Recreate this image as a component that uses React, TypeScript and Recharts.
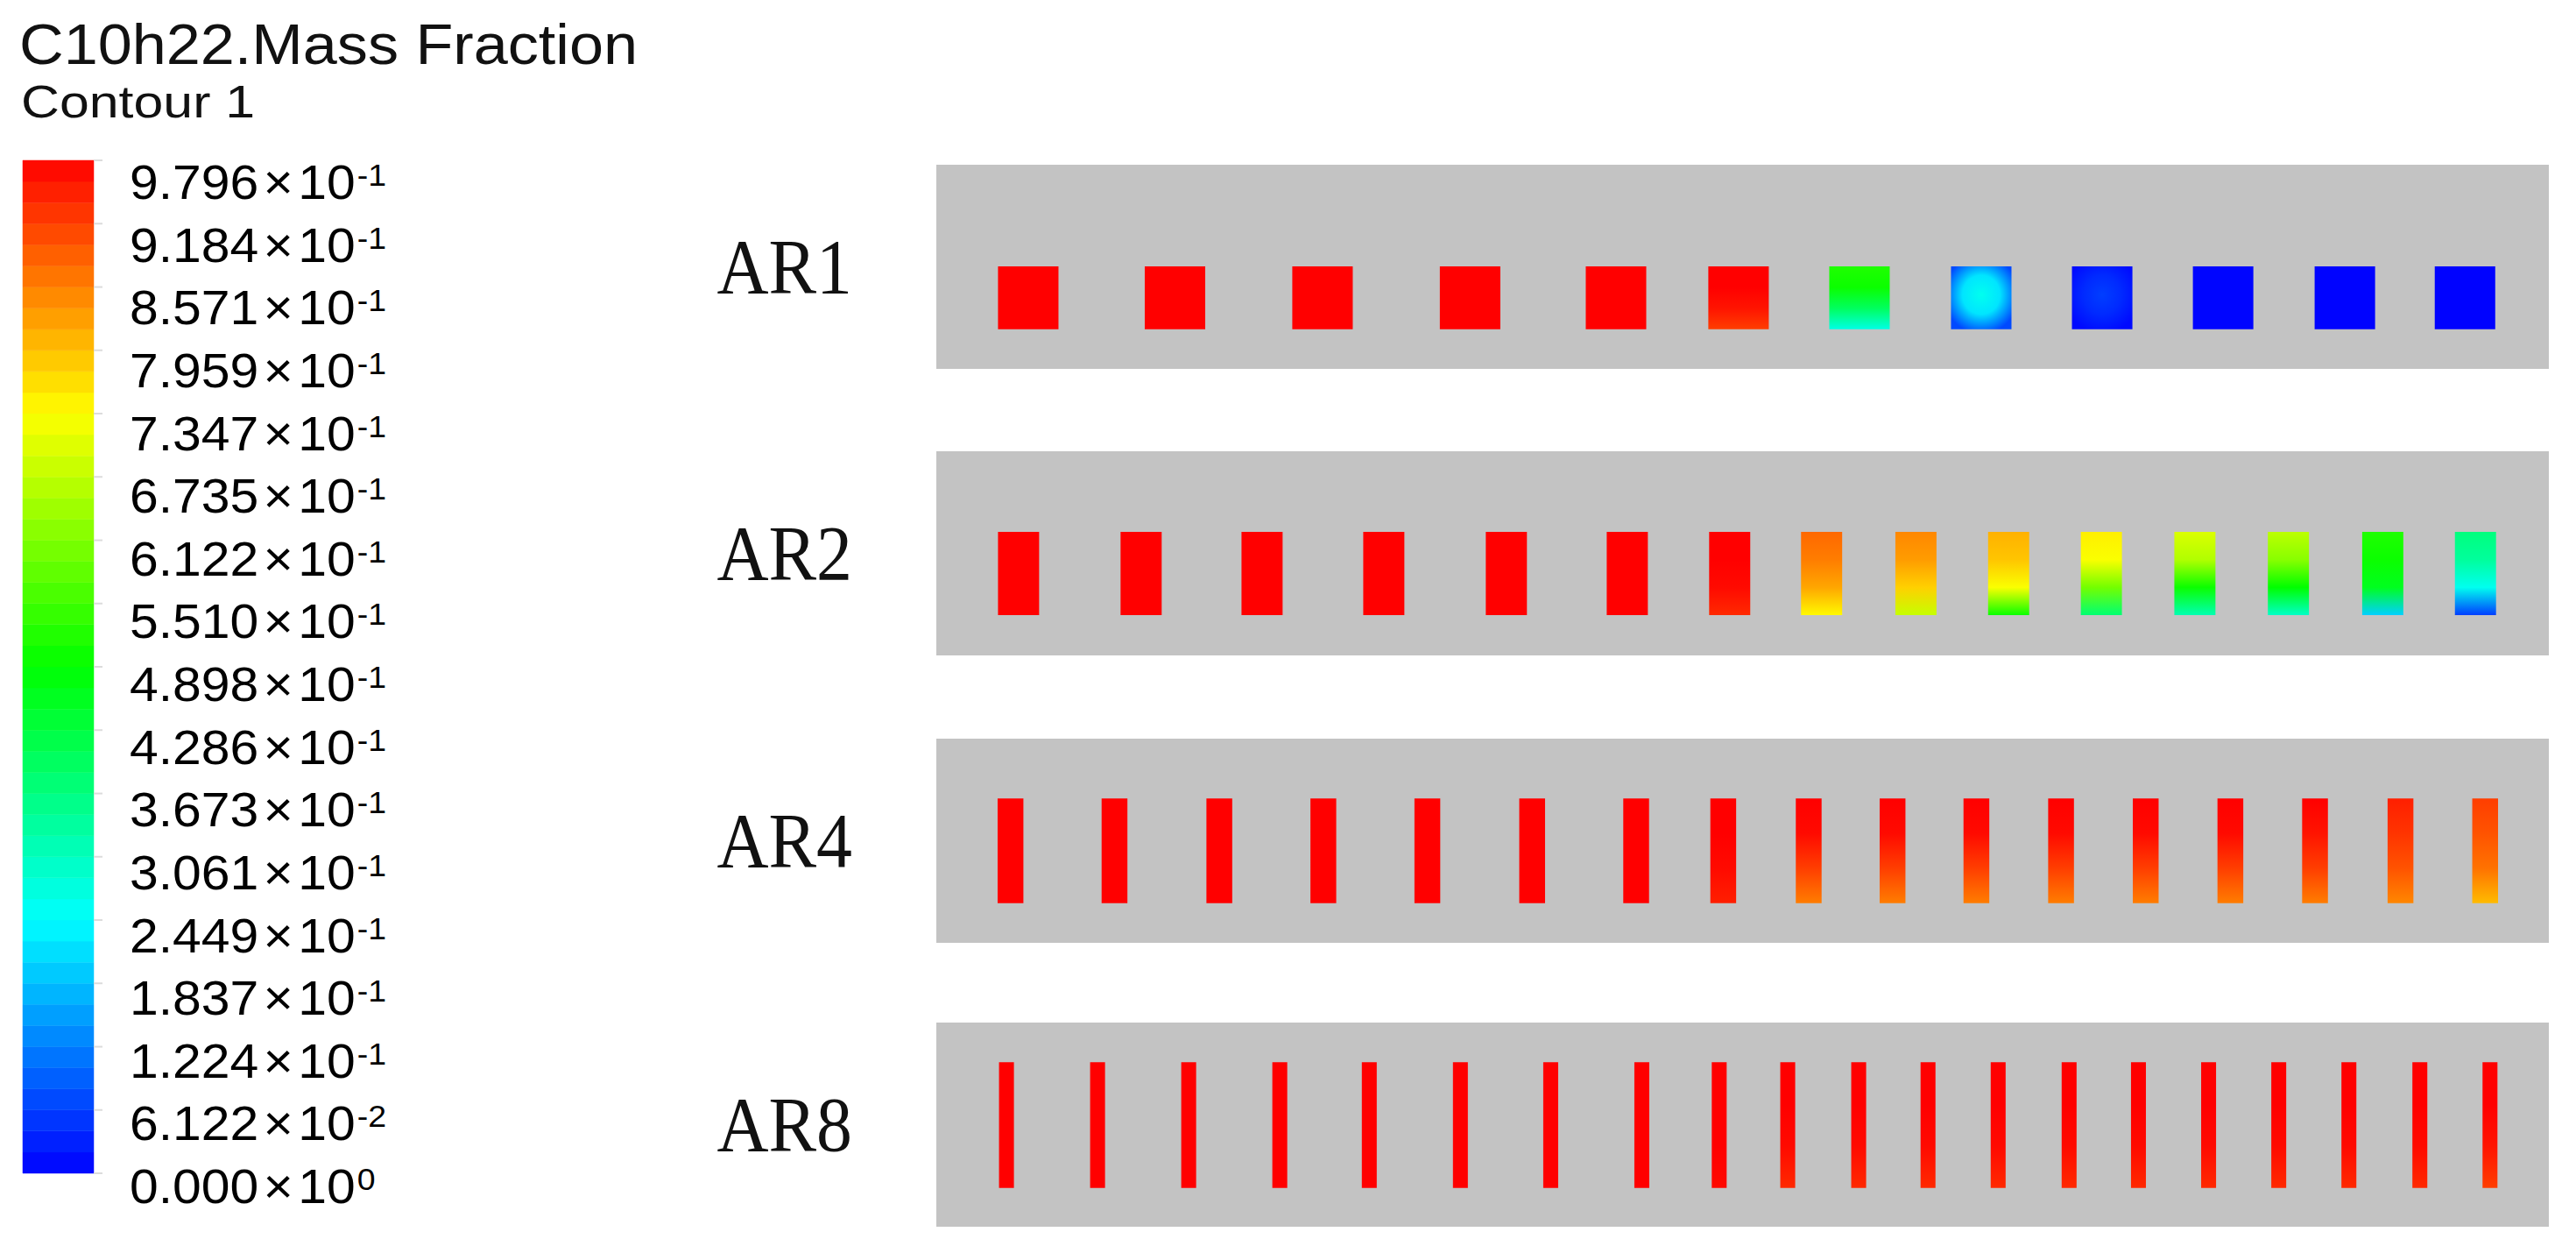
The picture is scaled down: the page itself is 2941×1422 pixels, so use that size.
import React from 'react';
import { ComposedChart, XAxis, YAxis, ReferenceArea } from 'recharts';

// ---------- legend ----------
const LEGEND_TITLE = 'C10h22.Mass Fraction';
const LEGEND_SUBTITLE = 'Contour 1';
const LEGEND_MIN = 0;
const LEGEND_MAX = 0.9796;
const TICK_VALUES = [0.9796, 0.9184, 0.8571, 0.7959, 0.7347, 0.6735, 0.6122, 0.551, 0.4898, 0.4286, 0.3673, 0.3061, 0.2449, 0.1837, 0.1224, 0.06122, 0];
const TICK_MANTISSAS = ['9.796', '9.184', '8.571', '7.959', '7.347', '6.735', '6.122', '5.510', '4.898', '4.286', '3.673', '3.061', '2.449', '1.837', '1.224', '6.122', '0.000'];
const TICK_EXPONENTS = ['-1', '-1', '-1', '-1', '-1', '-1', '-1', '-1', '-1', '-1', '-1', '-1', '-1', '-1', '-1', '-2', '0'];
const BAND_COUNT = 48;

// ---------- channel geometry (mm-like units) ----------
const CHANNEL_LENGTH = 200;
const CHANNEL_HEIGHT = 25.3;
const PANEL_NAMES = ['AR1', 'AR2', 'AR4', 'AR8'];

const AR1_X = [11.4, 29.6, 47.9, 66.2, 84.3, 99.5, 114.5, 129.6, 144.6, 159.6, 174.7, 189.6];
const AR1_WIDTH = 7.5;
const AR1_Y = [4.9, 12.7];
// vertical profile: top, upper, lower, bottom
const AR1_VALUES = [
  [0.98, 0.98, 0.98, 0.98], [0.98, 0.98, 0.98, 0.98], [0.98, 0.98, 0.98, 0.98],
  [0.98, 0.98, 0.98, 0.98], [0.98, 0.98, 0.98, 0.98], [0.98, 0.98, 0.96, 0.92],
  [0.52, 0.5, 0.4, 0.27], [0.14, 0.25, 0.24, 0.08], [0.02, 0.05, 0.05, 0.02],
  [0.005, 0.005, 0.005, 0.005], [0.003, 0.003, 0.003, 0.003], [0.002, 0.002, 0.002, 0.002],
];
// core / rim values for cells whose field is centred (null = vertical profile)
const AR1_CORE_RIM: (number[] | null)[] = [null, null, null, null, null, null, null, [0.26, 0.22, 0.07], [0.06, 0.04, 0.01], null, null, null];

const AR2_X = [10.2, 25.4, 40.4, 55.5, 70.7, 85.7, 98.4, 109.8, 121.5, 133.0, 144.5, 156.1, 167.7, 179.4, 190.9];
const AR2_WIDTH = 5.1;
const AR2_Y = [5.0, 15.3];
const AR2_VALUES = [
  [0.98, 0.98, 0.98, 0.98], [0.98, 0.98, 0.98, 0.98], [0.98, 0.98, 0.98, 0.98],
  [0.98, 0.98, 0.98, 0.98], [0.98, 0.98, 0.98, 0.98], [0.98, 0.98, 0.98, 0.98],
  [0.98, 0.98, 0.97, 0.94], [0.88, 0.86, 0.82, 0.74], [0.85, 0.83, 0.78, 0.68],
  [0.81, 0.79, 0.73, 0.5], [0.75, 0.73, 0.6, 0.38], [0.7, 0.66, 0.5, 0.32],
  [0.67, 0.62, 0.49, 0.3], [0.52, 0.5, 0.46, 0.2], [0.37, 0.34, 0.26, 0.06],
];

const AR4_X = [9.2, 22.1, 35.1, 48.0, 60.9, 73.9, 86.8, 97.6, 108.2, 118.6, 129.0, 139.5, 150.0, 160.5, 171.0, 181.6, 192.1];
const AR4_WIDTH = 3.2;
const AR4_Y = [4.9, 17.9];
const AR4_VALUES = [
  [0.98, 0.98, 0.98, 0.98], [0.98, 0.98, 0.98, 0.98], [0.98, 0.98, 0.98, 0.98],
  [0.98, 0.98, 0.98, 0.98], [0.98, 0.98, 0.98, 0.98], [0.98, 0.98, 0.98, 0.98],
  [0.98, 0.98, 0.98, 0.98], [0.98, 0.98, 0.97, 0.95], [0.98, 0.97, 0.92, 0.86],
  [0.98, 0.97, 0.92, 0.86], [0.98, 0.97, 0.92, 0.86], [0.98, 0.97, 0.92, 0.86],
  [0.98, 0.97, 0.92, 0.86], [0.98, 0.97, 0.92, 0.86], [0.98, 0.96, 0.92, 0.86],
  [0.95, 0.93, 0.9, 0.85], [0.92, 0.9, 0.87, 0.8],
];

const AR8_X = [8.7, 20.0, 31.3, 42.6, 53.7, 65.0, 76.2, 87.5, 97.1, 105.6, 114.4, 123.0, 131.7, 140.5, 149.1, 157.8, 166.5, 175.2, 184.0, 192.7];
const AR8_WIDTH = 1.85;
const AR8_Y = [4.8, 20.4];
const AR8_VALUES = [
  [0.98, 0.98, 0.98, 0.98], [0.98, 0.98, 0.98, 0.98], [0.98, 0.98, 0.98, 0.98],
  [0.98, 0.98, 0.98, 0.98], [0.98, 0.98, 0.98, 0.98], [0.98, 0.98, 0.98, 0.98],
  [0.98, 0.98, 0.98, 0.98], [0.98, 0.98, 0.98, 0.98], [0.98, 0.98, 0.98, 0.97],
  [0.98, 0.98, 0.97, 0.94], [0.98, 0.98, 0.97, 0.94], [0.98, 0.98, 0.97, 0.94],
  [0.98, 0.98, 0.97, 0.94], [0.98, 0.98, 0.97, 0.94], [0.98, 0.98, 0.97, 0.94],
  [0.98, 0.98, 0.97, 0.94], [0.98, 0.98, 0.97, 0.94], [0.98, 0.98, 0.97, 0.94],
  [0.98, 0.98, 0.97, 0.94], [0.98, 0.98, 0.96, 0.92],
];

// ---------- styling ----------
const SANS = '"Liberation Sans", Arial, Helvetica, sans-serif';
const SERIF = '"Liberation Serif", "Times New Roman", serif';
const PANEL_GRAY = '#c3c3c3';

const RAINBOW_STOPS: [number, number[]][] = [
  [0, [0, 0, 255]],
  [0.25, [0, 255, 255]],
  [0.5, [0, 255, 0]],
  [0.75, [255, 255, 0]],
  [1, [255, 0, 0]],
];

function rainbow(v: number): string {
  const t = Math.max(0, Math.min(1, (v - LEGEND_MIN) / (LEGEND_MAX - LEGEND_MIN)));
  for (let i = 0; i < RAINBOW_STOPS.length - 1; i++) {
    const [t0, c0] = RAINBOW_STOPS[i];
    const [t1, c1] = RAINBOW_STOPS[i + 1];
    if (t <= t1) {
      const f = (t - t0) / (t1 - t0);
      const c = c0.map((a, k) => Math.round(a + (c1[k] - a) * f));
      return `rgb(${c[0]},${c[1]},${c[2]})`;
    }
  }
  return 'rgb(255,0,0)';
}

const LEGEND_BANDS = Array.from({ length: BAND_COUNT }, (_, k) => {
  const lo = LEGEND_MIN + ((LEGEND_MAX - LEGEND_MIN) * k) / BAND_COUNT;
  const hi = LEGEND_MIN + ((LEGEND_MAX - LEGEND_MIN) * (k + 1)) / BAND_COUNT;
  return { lo, hi, color: rainbow((lo + hi) / 2) };
});

function LegendTick(props: any) {
  const { x, y, payload } = props;
  const i = TICK_VALUES.indexOf(payload.value);
  if (i < 0) return null;
  const dy = 34 + (10 * payload.value) / LEGEND_MAX;
  return (
    <g transform={`translate(${x},${y + dy}) scale(1.07,1)`}>
      <text x={0} y={0} textAnchor="start" fontFamily={SANS} fontSize={55} fill="#000">
        {TICK_MANTISSAS[i]}
        <tspan dx={5}>×</tspan>
        <tspan dx={5}>10</tspan>
        <tspan dx={2} dy={-15} fontSize={35}>{TICK_EXPONENTS[i]}</tspan>
      </text>
    </g>
  );
}

function ColorBar() {
  const W = 700;
  const H = 1422;
  return (
    <div style={{ position: 'absolute', left: 0, top: 0, width: W, height: H }}>
      <ComposedChart width={W} height={H} data={[{ x: 0 }, { x: 1 }]} margin={{ top: 183, right: 0, bottom: 83, left: 26 }}>
        <XAxis type="number" dataKey="x" domain={[0, 1]} hide />
        <YAxis
          type="number"
          orientation="right"
          domain={[LEGEND_MIN, LEGEND_MAX]}
          ticks={TICK_VALUES}
          interval={0}
          width={W - 107}
          axisLine={false}
          tickSize={10}
          tickMargin={31}
          tickLine={{ stroke: '#dcdcdc', strokeWidth: 2 }}
          tick={<LegendTick />}
          allowDataOverflow
        />
        {LEGEND_BANDS.map((b, k) => (
          <ReferenceArea key={k} x1={0} x2={1} y1={b.lo} y2={b.hi} fill={b.color} fillOpacity={1} stroke={b.color} strokeWidth={0.5} />
        ))}
      </ComposedChart>
    </div>
  );
}

function PanelLabel(props: any) {
  const { viewBox, text } = props;
  if (!viewBox) return null;
  const { x, y, height } = viewBox;
  return (
    <text
      transform={`translate(${x - 96},${y + height / 2 + 29}) scale(0.93,1)`}
      textAnchor="end"
      fontFamily={SERIF}
      fontSize={88}
      fill="#111"
    >
      {text}
    </text>
  );
}

function Panel(props: {
  id: string;
  name: string;
  xs: number[];
  width: number;
  ys: number[];
  values: number[][];
  coreRim?: (number[] | null)[];
  top: number;
}) {
  const { id, name, xs, width, ys, values, coreRim, top } = props;
  const W = 2141;
  const H = 233;
  const data = xs.map((x, i) => ({ x, v: values[i][0] }));
  return (
    <div style={{ position: 'absolute', left: 800, top, width: W, height: H }}>
      <ComposedChart width={W} height={H} data={data} margin={{ top: 0, right: 31, bottom: 0, left: 269 }}>
        <defs>
          {values.map((vals, i) => {
            const cr = coreRim ? coreRim[i] : null;
            if (cr) {
              return (
                <radialGradient key={i} id={`${id}-${i}`} cx="0.5" cy="0.45" r="0.62">
                  {cr.map((v, k) => (
                    <stop key={k} offset={k / (cr.length - 1)} stopColor={rainbow(v)} />
                  ))}
                </radialGradient>
              );
            }
            return (
              <linearGradient key={i} id={`${id}-${i}`} x1="0" y1="0" x2="0" y2="1">
                {vals.map((v, k) => (
                  <stop key={k} offset={k / (vals.length - 1)} stopColor={rainbow(v)} />
                ))}
              </linearGradient>
            );
          })}
        </defs>
        <XAxis type="number" dataKey="x" domain={[0, CHANNEL_LENGTH]} hide allowDataOverflow />
        <YAxis type="number" domain={[0, CHANNEL_HEIGHT]} hide allowDataOverflow />
        <ReferenceArea
          x1={0}
          x2={CHANNEL_LENGTH}
          y1={0}
          y2={CHANNEL_HEIGHT}
          fill={PANEL_GRAY}
          fillOpacity={1}
          stroke="none"
          label={<PanelLabel text={name} />}
        />
        {xs.map((x, i) => (
          <ReferenceArea
            key={i}
            x1={x - width / 2}
            x2={x + width / 2}
            y1={ys[0]}
            y2={ys[1]}
            fill={`url(#${id}-${i})`}
            fillOpacity={1}
            stroke="none"
          />
        ))}
      </ComposedChart>
    </div>
  );
}

export default function App() {
  return (
    <div style={{ position: 'absolute', left: 0, top: 0, width: 2941, height: 1422, background: '#fff', overflow: 'hidden' }}>
      <svg width={800} height={170} style={{ position: 'absolute', left: 0, top: 0 }}>
        <text transform="translate(22,73) scale(1.08,1)" fontFamily={SANS} fontSize={65} fill="#111">
          {LEGEND_TITLE}
        </text>
        <text transform="translate(24,134) scale(1.17,1)" fontFamily={SANS} fontSize={52} fill="#111">
          {LEGEND_SUBTITLE}
        </text>
      </svg>
      <ColorBar />
      <Panel id="ar1" name={PANEL_NAMES[0]} xs={AR1_X} width={AR1_WIDTH} ys={AR1_Y} values={AR1_VALUES} coreRim={AR1_CORE_RIM} top={188} />
      <Panel id="ar2" name={PANEL_NAMES[1]} xs={AR2_X} width={AR2_WIDTH} ys={AR2_Y} values={AR2_VALUES} top={515} />
      <Panel id="ar4" name={PANEL_NAMES[2]} xs={AR4_X} width={AR4_WIDTH} ys={AR4_Y} values={AR4_VALUES} top={843} />
      <Panel id="ar8" name={PANEL_NAMES[3]} xs={AR8_X} width={AR8_WIDTH} ys={AR8_Y} values={AR8_VALUES} top={1167} />
    </div>
  );
}
